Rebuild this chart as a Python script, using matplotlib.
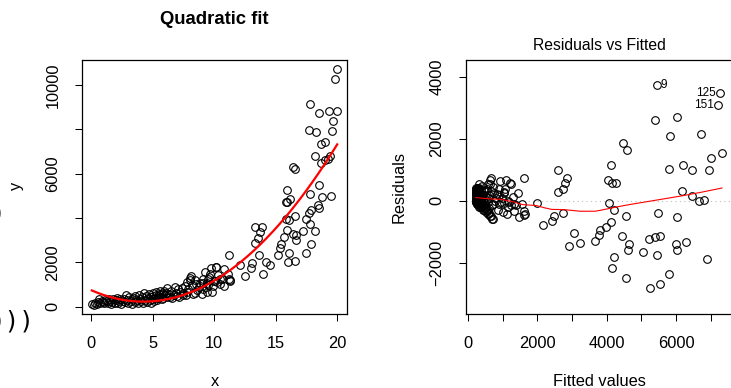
import numpy as np
import matplotlib
matplotlib.use("Agg")
import matplotlib.pyplot as plt

plt.rcParams['font.family'] = ['Liberation Sans', 'DejaVu Sans']

# ---- data (x, y) ----
x = [0.05, 0.2, 0.3, 0.45, 0.55, 0.65, 0.7, 0.85, 17.75, 0.95,
     1.05, 1.15, 1.25, 1.35, 1.45, 1.55, 1.6, 1.7, 1.8, 1.9,
     2.0, 2.1, 2.15, 2.25, 2.35, 2.45, 2.55, 2.65, 2.75, 2.85,
     2.95, 3.0, 3.1, 3.2, 3.3, 3.35, 3.45, 3.55, 3.6, 3.7,
     3.8, 3.85, 3.95, 4.05, 4.1, 4.2, 4.3, 4.35, 4.45, 4.55,
     4.6, 4.7, 4.75, 4.85, 4.9, 4.95, 5.0, 5.05, 5.1, 5.2,
     5.25, 5.3, 5.35, 5.45, 5.5, 5.55, 5.6, 5.66, 5.75, 5.8,
     5.87, 5.95, 6.0, 6.09, 6.14, 6.2, 6.3, 6.41, 6.5, 6.6,
     6.74, 6.82, 6.9, 7.0, 7.09, 7.17, 7.25, 7.36, 7.45, 7.5,
     7.6, 7.7, 7.77, 7.82, 7.9, 8.04, 8.04, 8.12, 8.17, 8.3,
     8.44, 8.44, 8.53, 8.6, 8.74, 8.85, 8.99, 9.05, 9.12, 9.12,
     9.23, 9.3, 9.39, 9.45, 9.53, 9.53, 9.6, 9.66, 9.77, 9.82,
     9.93, 9.96, 10.07, 10.12, 19.95, 10.18, 10.2, 10.34, 10.47, 10.47,
     10.6, 10.77, 10.83, 11.1, 11.2, 11.25, 11.3, 18.5, 19.3, 20.0,
     19.65, 17.67, 18.24, 19.57, 18.7, 19.0, 18.2, 18.65, 19.0, 19.25,
     19.86, 19.4, 16.43, 16.6, 18.49, 17.8, 18.8, 19.5, 15.9, 15.8,
     15.95, 16.15, 18.46, 18.5, 17.86, 17.7, 15.83, 16.05, 16.56, 17.45,
     17.78, 15.94, 16.37, 16.67, 16.64, 17.24, 18.19, 15.7, 15.43, 15.37,
     17.86, 17.5, 16.05, 15.2, 15.97, 16.56, 13.34, 13.86, 13.73, 13.6,
     13.34, 13.64, 14.18, 14.5, 13.96, 13.1, 13.0, 12.5, 12.07, 11.23]

y = [120, 90, 180, 130, 220, 350, 150, 260, 9160, 200,
     140, 300, 230, 170, 320, 260, 120, 210, 340, 180,
     280, 400, 150, 230, 320, 110, 270, 360, 200, 510,
     300, 160, 420, 250, 330, 130, 380, 210, 460, 290,
     170, 520, 340, 240, 420, 180, 630, 300, 480, 220,
     370, 560, 280, 430, 180, 350, 600, 480, 250, 380,
     520, 660, 300, 400, 580, 450, 690, 550, 330, 620,
     400, 720, 500, 630, 850, 420, 560, 430, 700, 380,
     510, 880, 620, 470, 780, 430, 660, 850, 540, 630,
     920, 520, 670, 1110, 780, 1180, 1300, 1380, 960, 560,
     630, 1180, 1000, 750, 900, 1050, 550, 1250, 780, 1080,
     1560, 900, 1080, 640, 960, 1260, 1320, 1450, 1750, 670,
     930, 1150, 1150, 1770, 10730, 1780, 1110, 1410, 1000, 1230,
     1230, 1680, 930, 1450, 1260, 1160, 1200, 8740, 8850, 8850,
     8380, 7960, 7900, 7930, 7350, 7420, 6800, 6470, 6600, 6660,
     10270, 6800, 6320, 6230, 5490, 5090, 4960, 5000, 5270, 4720,
     4710, 4850, 4600, 4450, 4370, 4220, 3970, 3890, 4070, 3970,
     3710, 3440, 3290, 3230, 3020, 3400, 3410, 3140, 2840, 2650,
     2830, 2420, 2400, 2350, 1990, 2080, 3590, 3580, 3350, 3110,
     2870, 2340, 1990, 1860, 1450, 1980, 1750, 1400, 1890, 2340]

x = np.array(x, dtype=float)
y = np.array(y, dtype=float)

left_xticks = [0, 5, 10, 15, 20]
left_yticks = [0, 2000, 4000, 6000, 8000, 10000]
left_ylabels = ['0', '2000', '', '6000', '', '10000']
right_xticks = [0, 1000, 2000, 3000, 4000, 5000, 6000, 7000]
right_xlabels = ['0', '', '2000', '', '4000', '', '6000', '']
right_yticks = [-2000, 0, 2000, 4000]
right_ylabels = ['\u22122000', '0', '2000', '4000']

# ---- quadratic fit ----
coef = np.polyfit(x, y, 2)
fitted = np.polyval(coef, x)
resid = y - fitted


def lowess(xv, yv, f=2/3, iters=3):
    order = np.argsort(xv)
    xs = xv[order]
    ys = yv[order]
    n = len(xs)
    r = max(min(int(f * n + 1e-7), n), 2)
    robust = np.ones(n)
    out = np.zeros(n)
    for it in range(iters + 1):
        for i in range(n):
            d = np.abs(xs - xs[i])
            h = np.sort(d)[r - 1]
            h = max(h, 1e-12)
            u = np.clip(d / h, 0, 1)
            w = (1 - u ** 3) ** 3 * robust
            sw = w.sum()
            xm = (w * xs).sum() / sw
            ym = (w * ys).sum() / sw
            sxx = (w * (xs - xm) ** 2).sum()
            b = (w * (xs - xm) * (ys - ym)).sum() / sxx if sxx > 1e-12 else 0.0
            out[i] = ym + b * (xs[i] - xm)
        if it == iters:
            break
        res = ys - out
        s = np.median(np.abs(res))
        u = np.clip(res / (6 * s), -1, 1)
        robust = (1 - u ** 2) ** 2
    return xs, out


def rrange(v, f=0.04):
    lo, hi = np.min(v), np.max(v)
    d = hi - lo
    return lo - f * d, hi + f * d


W, H = 731, 388
fig = plt.figure(figsize=(W / 100, H / 100), dpi=100)

tick_kw = dict(direction='out', length=5, width=0.75, labelsize=11.8, pad=10.5)

# ---- left panel ----
ax1 = fig.add_axes([82 / W, 1 - 314 / H, (347 - 82) / W, (314 - 59.5) / H])
ax1.plot(x, y, linestyle='none', marker='o', mfc='none', mec='black',
         mew=0.8, ms=5.5)
xs_curve = np.linspace(x.min(), x.max(), 300)
ax1.plot(xs_curve, np.polyval(coef, xs_curve), color='red', lw=1.6)
ax1.set_xlim(*rrange(x))
ax1.set_ylim(*rrange(y))
ax1.set_xticks(left_xticks)
ax1.set_xticklabels([str(t) for t in left_xticks])
ax1.set_yticks(left_yticks)
ax1.set_yticklabels(left_ylabels, rotation=90, va='center')
ax1.tick_params(**tick_kw)

# ---- right panel ----
ax2 = fig.add_axes([466 / W, 1 - 314 / H, (731.8 - 466) / W, (314 - 59.5) / H])
ax2.axhline(0, color='#bebebe', lw=0.8, ls=(0, (1, 3)))
ax2.plot(fitted, resid, linestyle='none', marker='o', mfc='none',
         mec='black', mew=0.8, ms=5.5)
lx, ly = lowess(fitted, resid)
ax2.plot(lx, ly, color='red', lw=0.8)
ax2.set_xlim(*rrange(fitted))
lo, hi = rrange(resid, 0.08)
ax2.set_ylim(*rrange([lo, hi]))
ax2.set_xticks(right_xticks)
ax2.set_xticklabels(right_xlabels)
ax2.set_yticks(right_yticks)
ax2.set_yticklabels(right_ylabels, rotation=90, va='center')
ax2.tick_params(**tick_kw)

top = np.argsort(-np.abs(resid))[:3]
mid = (fitted[top].min() + fitted[top].max()) / 2
for i in top:
    if fitted[i] > mid:
        ax2.annotate(str(i + 1), (fitted[i], resid[i]), xytext=(-3, 0),
                     textcoords='offset points', ha='right', va='center',
                     fontsize=8.5)
    else:
        ax2.annotate(str(i + 1), (fitted[i], resid[i]), xytext=(3, 0),
                     textcoords='offset points', ha='left', va='center',
                     fontsize=8.5)

for ax in (ax1, ax2):
    for s in ax.spines.values():
        s.set_linewidth(0.9)

# ---- titles and axis labels ----
fig.text(214.5 / W, 1 - 20 / H, 'Quadratic fit', ha='center', va='center',
         fontsize=13.3, fontweight='bold')
fig.text(599 / W, 1 - 45 / H, 'Residuals vs Fitted', ha='center', va='center',
         fontsize=11.3)
fig.text(214.5 / W, 1 - 381 / H, 'x', ha='center', va='center', fontsize=11.8)
fig.text(599 / W, 1 - 381 / H, 'Fitted values', ha='center', va='center',
         fontsize=11.8)
fig.text(17 / W, 1 - 186 / H, 'y', ha='center', va='center', fontsize=11.8,
         rotation=90)
fig.text(399 / W, 1 - 187 / H, 'Residuals', ha='center', va='center',
         fontsize=11.8, rotation=90)

# stray console characters at the left edge (partly outside the canvas)
fig.text(-9.5 / W, 1 - 322 / H, ')))', ha='left', va='center', fontsize=17.6,
         family='DejaVu Sans Mono')
fig.text(-9.5 / W, 1 - 213 / H, ')', ha='left', va='center', fontsize=17.6,
         family='DejaVu Sans Mono')

fig.savefig('out.png', dpi=100)
